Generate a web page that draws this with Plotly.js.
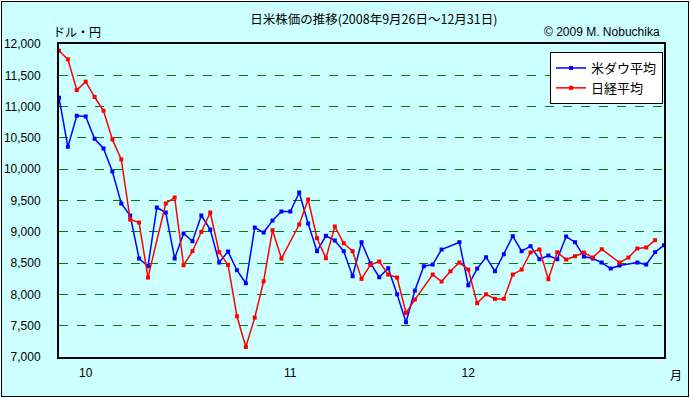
<!DOCTYPE html>
<html>
<head>
<meta charset="utf-8">
<script src="https://cdn.plot.ly/plotly-3.0.1.min.js"></script>
<style>
html,body{margin:0;padding:0;background:#ffffff;}
#frame{position:absolute;left:1px;top:1px;width:686px;height:394px;border:1px solid #000;background:#CCFFFF;}
#chart{width:686px;height:394px;}
</style>
</head>
<body>
<div id="frame"><div id="chart"></div></div>
<script>
// Trading dates (union of Tokyo and New York), 2008-09-26 .. 2008-12-31
const dates = [
 "2008-09-26","2008-09-29","2008-09-30",
 "2008-10-01","2008-10-02","2008-10-03","2008-10-06","2008-10-07","2008-10-08","2008-10-09","2008-10-10",
 "2008-10-13","2008-10-14","2008-10-15","2008-10-16","2008-10-17","2008-10-20","2008-10-21","2008-10-22",
 "2008-10-23","2008-10-24","2008-10-27","2008-10-28","2008-10-29","2008-10-30","2008-10-31",
 "2008-11-03","2008-11-04","2008-11-05","2008-11-06","2008-11-07","2008-11-10","2008-11-11","2008-11-12",
 "2008-11-13","2008-11-14","2008-11-17","2008-11-18","2008-11-19","2008-11-20","2008-11-21","2008-11-24",
 "2008-11-25","2008-11-26","2008-11-27","2008-11-28",
 "2008-12-01","2008-12-02","2008-12-03","2008-12-04","2008-12-05","2008-12-08","2008-12-09","2008-12-10",
 "2008-12-11","2008-12-12","2008-12-15","2008-12-16","2008-12-17","2008-12-18","2008-12-19","2008-12-22",
 "2008-12-23","2008-12-24","2008-12-25","2008-12-26","2008-12-29","2008-12-30","2008-12-31"
];
// 米ダウ平均 (USD)
const dow = [
 11142,10358,10854,10843,10486,10332,9964,9452,9260,8573,8450,
 9388,9308,8573,8973,8850,9260,9036,8509,8685,8386,8178,9068,8988,9180,9324,9324,9628,
 9132,8690,8935,8861,8690,8290,8834,8498,8274,8418,8002,7555,8061,8450,8477,8717,
 null,
 8834,
 8146,8413,8594,8370,8642,8930,8690,8770,8562,8621,8562,8925,8834,8605,8573,8509,8413,8461,
 null,
 8509,8477,8674,8786
];
// 日経平均 (JPY)
const nikkei = [
 11893,11755,11264,11398,11153,10934,10476,10156,9196,9148,8269,
 null,
 9452,9548,8466,8690,8999,9308,8674,8471,7651,7160,7629,8210,9026,8573,
 null,
 9116,9516,8898,8578,9085,8818,8690,8248,8471,8525,8317,8269,7704,7917,
 null,
 8317,8205,8370,8509,8397,7859,8002,7928,7928,8317,8397,8669,8717,8242,8674,8557,8610,8669,8589,8722,
 null,
 8509,8589,8733,8749,8866,
 null
];
const monthTickDates = ["2008-10-01","2008-11-03","2008-12-01"];
const monthTickText = ["10","11","12"];
const yTicks = [7000,7500,8000,8500,9000,9500,10000,10500,11000,11500,12000];
const seriesNames = ["米ダウ平均","日経平均"];
const titleText = "日米株価の推移(2008年9月26日～12月31日)";

const W = 686, H = 394;
const M = {l:57, r:24, t:42, b:39};
const pw = W - M.l - M.r, ph = H - M.t - M.b;
const px = x => (x - M.l) / pw;
const py = y => 1 - (y - M.t) / ph;

const FONT = "Liberation Sans, Arial, Noto Sans CJK JP, sans-serif";
const JFONT = "Noto Sans CJK JP, sans-serif";

const traces = [
 {x: dates, y: dow, name: seriesNames[0], type: "scatter", mode: "lines+markers",
  connectgaps: true, cliponaxis: false,
  line: {color: "#0000FF", width: 1.5}, marker: {color: "#0000FF", symbol: "square", size: 4}},
 {x: dates, y: nikkei, name: seriesNames[1], type: "scatter", mode: "lines+markers",
  connectgaps: true, cliponaxis: false,
  line: {color: "#FF0000", width: 1.5}, marker: {color: "#FF0000", symbol: "square", size: 4}}
];

const layout = {
 width: W, height: H,
 margin: M,
 paper_bgcolor: "#CCFFFF", plot_bgcolor: "#CCFFFF",
 font: {family: FONT, size: 12, color: "#000"},
 title: {text: titleText, x: 357/W, xanchor: "center", xref: "paper", yref: "container", y: 1 - 18/H, yanchor: "middle",
         font: {family: JFONT, size: 12.5, color: "#000"}},
 showlegend: true,
 legend: {x: px(548), y: py(50), xanchor: "left", yanchor: "top",
          bgcolor: "#FFFFFF", bordercolor: "#000000", borderwidth: 1,
          font: {family: JFONT, size: 13, color: "#000"}, tracegroupgap: 0},
 xaxis: {type: "category", range: [0, dates.length - 1], tickvals: monthTickDates, ticktext: monthTickText,
         showgrid: false, zeroline: false, showline: true, mirror: true, linecolor: "#000", linewidth: 2,
         ticks: "", tickfont: {family: FONT, size: 12}, ticklabelstandoff: 4},
 yaxis: {range: [7000, 12000], tickvals: yTicks, tickformat: ",", showgrid: true,
         gridcolor: "#008000", griddash: "dash", gridwidth: 1, zeroline: false,
         showline: true, mirror: true, linecolor: "#000", linewidth: 2, ticks: "",
         tickfont: {family: FONT, size: 12}, ticklabelstandoff: 14},
 annotations: [
  {text: "ドル・円", xref: "paper", yref: "paper", x: px(49), y: py(30), xanchor: "left", yanchor: "middle",
   showarrow: false, font: {family: JFONT, size: 12}},
  {text: "© 2009 M. Nobuchika", xref: "paper", yref: "paper", x: px(660), y: py(30), xanchor: "right", yanchor: "middle",
   showarrow: false, font: {family: FONT, size: 12}},
  {text: "月", xref: "paper", yref: "paper", x: px(674), y: py(372), xanchor: "center", yanchor: "middle",
   showarrow: false, font: {family: JFONT, size: 12}}
 ]
};

Plotly.newPlot("chart", traces, layout, {displayModeBar: false, staticPlot: true});
</script>
</body>
</html>
